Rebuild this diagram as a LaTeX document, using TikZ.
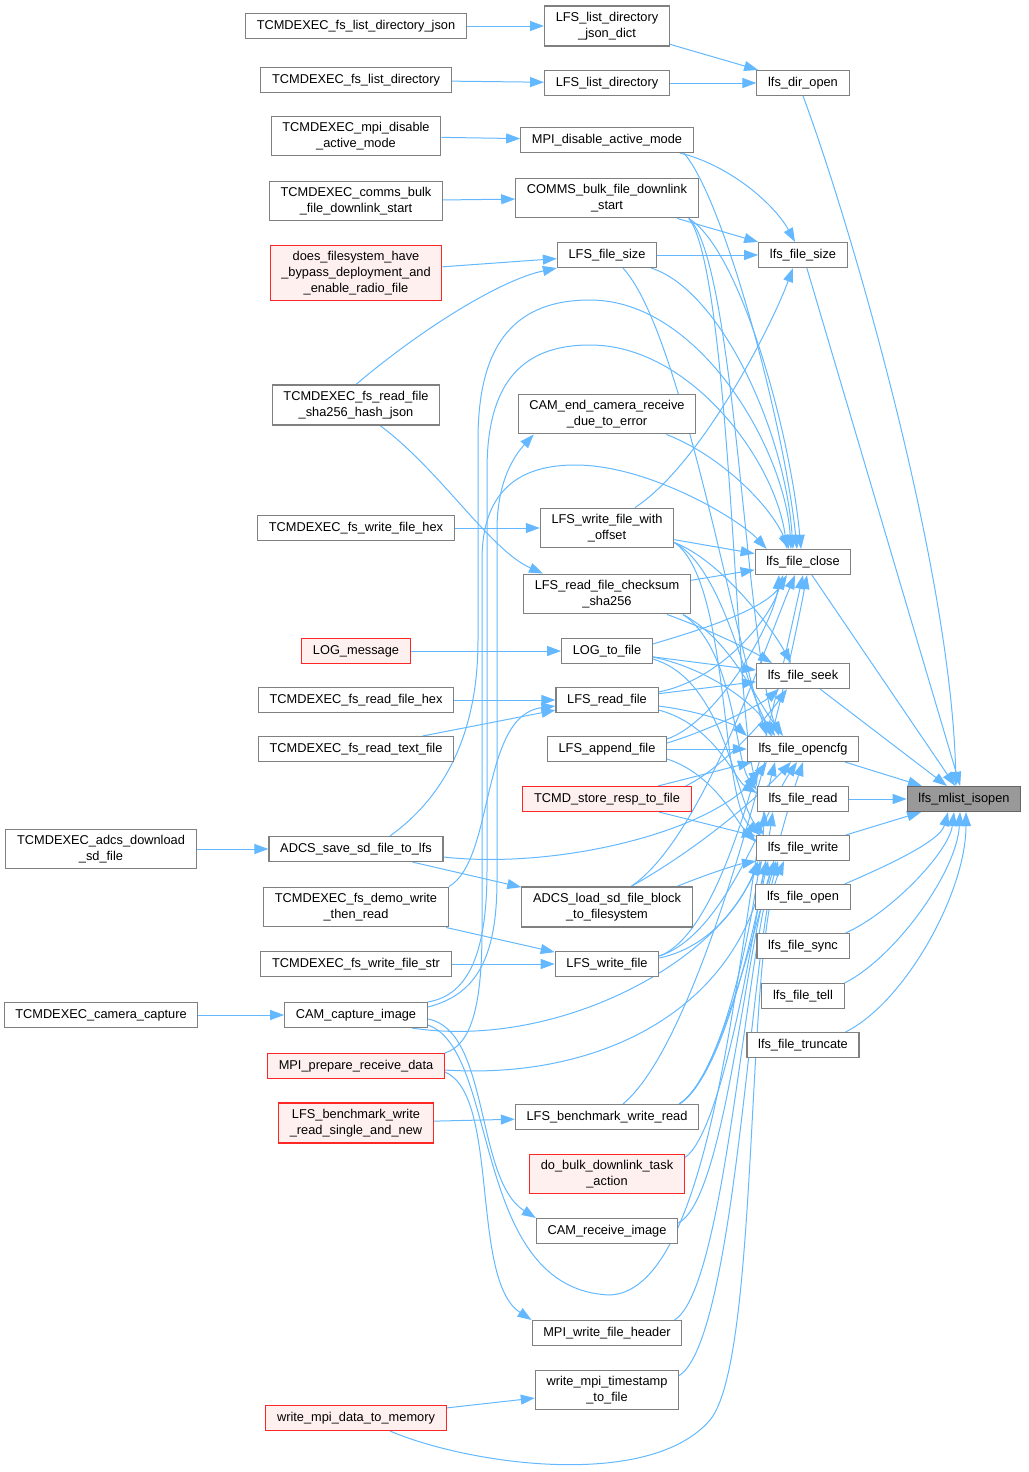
\documentclass[tikz,border=0pt]{standalone}
\usepackage{fontspec}
\setmainfont{Liberation Sans}
\usetikzlibrary{arrows.meta}
\definecolor{edgeblue}{RGB}{99,184,255}
\definecolor{boxgray}{RGB}{128,128,128}
\definecolor{rosefill}{RGB}{255,240,240}
\definecolor{hlgray}{RGB}{153,153,153}
\pgfdeclarelayer{background}
\pgfsetlayers{background,main}

\tikzset{
  fn/.style={draw=boxgray, fill=white, line width=0.55pt, font=\fontsize{6.4}{8}\selectfont,
    inner xsep=5.6pt, inner ysep=3pt, minimum height=12.5pt, align=center},
  fnred/.style={fn, draw=red!85, fill=rosefill},
  fnhl/.style={fn, draw=black!60, fill=hlgray},
  edge/.style={draw=edgeblue, line width=0.5pt, -{Triangle[length=7pt,width=5pt]}},
}

\begin{document}
\begin{tikzpicture}[x=0.5pt,y=-0.5pt]
        \useasboundingbox (0,0) rectangle (1028,1472);

        % Far left callers
        \node[fn] (c0adcs) at (101,849) {TCMDEXEC\_adcs\_download\\\_sd\_file};
        \node[fn] (c0cam) at (101,1015) {TCMDEXEC\_camera\_capture};

        % Left callers
        \node[fn] (c1json) at (356,26) {TCMDEXEC\_fs\_list\_directory\_json};
        \node[fn] (c1list) at (356,80) {TCMDEXEC\_fs\_list\_directory};
        \node[fn] (c1mpi) at (356,136) {TCMDEXEC\_mpi\_disable\\\_active\_mode};
        \node[fn] (c1comms) at (356,201) {TCMDEXEC\_comms\_bulk\\\_file\_downlink\_start};
        \node[fnred] (c1bypass) at (356,273) {does\_filesystem\_have\\\_bypass\_deployment\_and\\\_enable\_radio\_file};
        \node[fn] (c1sha) at (356,405) {TCMDEXEC\_fs\_read\_file\\\_sha256\_hash\_json};
        \node[fn] (c1whex) at (356,528) {TCMDEXEC\_fs\_write\_file\_hex};
        \node[fnred] (c1log) at (356,651) {LOG\_message};
        \node[fn] (c1rhex) at (356,700) {TCMDEXEC\_fs\_read\_file\_hex};
        \node[fn] (c1rtext) at (356,749) {TCMDEXEC\_fs\_read\_text\_file};
        \node[fn] (c1adcs) at (356,849) {ADCS\_save\_sd\_file\_to\_lfs};
        \node[fn] (c1demo) at (356,907) {TCMDEXEC\_fs\_demo\_write\\\_then\_read};
        \node[fn] (c1wstr) at (356,964) {TCMDEXEC\_fs\_write\_file\_str};
        \node[fn] (c1cam) at (356,1015) {CAM\_capture\_image};
        \node[fnred] (c1mpirx) at (356,1066) {MPI\_prepare\_receive\_data};
        \node[fnred] (c1bench) at (356,1123) {LFS\_benchmark\_write\\\_read\_single\_and\_new};
        \node[fnred] (c1mpimem) at (356,1418) {write\_mpi\_data\_to\_memory};

        % Middle column
        \node[fn] (jsondict) at (607,26) {LFS\_list\_directory\\\_json\_dict};
        \node[fn] (listdir) at (607,83) {LFS\_list\_directory};
        \node[fn] (mpidis) at (607,140) {MPI\_disable\_active\_mode};
        \node[fn] (comms) at (607,198) {COMMS\_bulk\_file\_downlink\\\_start};
        \node[fn] (fsize) at (607,255) {LFS\_file\_size};
        \node[fn] (camend) at (607,414) {CAM\_end\_camera\_receive\\\_due\_to\_error};
        \node[fn] (woff) at (607,528) {LFS\_write\_file\_with\\\_offset};
        \node[fn] (rsha) at (607,594) {LFS\_read\_file\_checksum\\\_sha256};
        \node[fn] (logf) at (607,651) {LOG\_to\_file};
        \node[fn] (rfile) at (607,700) {LFS\_read\_file};
        \node[fn] (append) at (607,749) {LFS\_append\_file};
        \node[fnred] (store) at (607,799) {TCMD\_store\_resp\_to\_file};
        \node[fn] (adcsload) at (607,907) {ADCS\_load\_sd\_file\_block\\\_to\_filesystem};
        \node[fn] (wfile) at (607,964) {LFS\_write\_file};
        \node[fn] (bench) at (607,1117) {LFS\_benchmark\_write\_read};
        \node[fnred] (dobulk) at (607,1174) {do\_bulk\_downlink\_task\\\_action};
        \node[fn] (camrx) at (607,1231) {CAM\_receive\_image};
        \node[fn] (mpihdr) at (607,1333) {MPI\_write\_file\_header};
        \node[fn] (tstamp) at (607,1390) {write\_mpi\_timestamp\\\_to\_file};

        % lfs functions
        \node[fn] (diropen) at (803,83) {lfs\_dir\_open};
        \node[fn] (lsize) at (803,255) {lfs\_file\_size};
        \node[fn] (lclose) at (803,562) {lfs\_file\_close};
        \node[fn] (lseek) at (803,676) {lfs\_file\_seek};
        \node[fn] (lopencfg) at (803,749) {lfs\_file\_opencfg};
        \node[fn] (lread) at (803,799) {lfs\_file\_read};
        \node[fn] (lwrite) at (803,848) {lfs\_file\_write};
        \node[fn] (lopen) at (803,897) {lfs\_file\_open};
        \node[fn] (lsync) at (803,946) {lfs\_file\_sync};
        \node[fn] (ltell) at (803,996) {lfs\_file\_tell};
        \node[fn] (ltrunc) at (803,1045) {lfs\_file\_truncate};
        \node[fnhl] (isopen) at (964,799) {lfs\_mlist\_isopen};

        \begin{pgfonlayer}{background}
        % Straight edges
        \foreach \a/\b in {c1json/jsondict, c1list/listdir, c1mpi/mpidis, c1comms/comms,
            c1bypass/fsize, c1whex/woff, c1log/logf, c1rhex/rfile, c1rtext/rfile,
            c0adcs/c1adcs, c1adcs/adcsload, c1demo/wfile, c1wstr/wfile, c0cam/c1cam,
            c1bench/bench, c1mpimem/tstamp, jsondict/diropen, listdir/diropen,
            comms/lsize, fsize/lsize, woff/lclose, rsha/lclose, logf/lseek, rfile/lseek,
            append/lopencfg, store/lopencfg, store/lwrite, lsize/isopen, lclose/isopen,
            lseek/isopen, lopencfg/isopen, lread/isopen, lwrite/isopen}
          \draw[edge] (\a) -- (\b);

        % Into lfs_mlist_isopen
        \draw[edge] (diropen.south) .. controls (848,216) and (951,566) .. ([xshift=-4pt]isopen.north);
        \draw[edge] ([xshift=-3pt]lopen.north east) .. controls +(35,-15) and +(-8,30) .. ([xshift=-8pt]isopen.south);
        \draw[edge] ([xshift=-2pt]lsync.north east) .. controls +(45,-20) and +(-5,40) .. ([xshift=-5pt]isopen.south);
        \draw[edge] (ltell.north east) .. controls +(50,-25) and +(-3,60) .. ([xshift=-2pt]isopen.south);
        \draw[edge] ([xshift=-7pt]ltrunc.north east) .. controls +(60,-30) and +(0,80) .. ([xshift=1pt]isopen.south);

        % Middle column to lfs functions
        \draw[edge] ([xshift=-7pt]mpidis.south east) .. controls (730,165) and (775,205) .. ([xshift=-4pt]lsize.north);
        \draw[edge] ([xshift=-5pt]mpidis.south east) .. controls (725,200) and (785,430) .. ([xshift=-3pt]lclose.north);
        \draw[edge] ([xshift=-5pt]comms.south east) .. controls (740,250) and (790,430) .. ([xshift=-1pt]lclose.north);
        \draw[edge] ([xshift=-5pt]comms.south east) .. controls (735,260) and (745,640) .. ([xshift=-12pt]lopencfg.north);
        \draw[edge] ([xshift=-5pt]comms.south east) .. controls (730,270) and (735,700) .. (lread.north west);
        \draw[edge] ([xshift=-3pt]fsize.south east) .. controls (720,290) and (785,430) .. ([xshift=-5pt]lclose.north);
        \draw[edge] ([xshift=8pt]fsize.south) .. controls (680,330) and (730,620) .. ([xshift=-18pt]lopencfg.north);
        \draw[edge] ([xshift=-15pt]camend.south east) .. controls (720,455) and (770,505) .. ([xshift=-7pt]lclose.north);
        \draw[edge] ([xshift=14pt]woff.north) .. controls (700,465) and (770,330) .. ([xshift=-5pt]lsize.south);
        \draw[edge] ([yshift=3pt]woff.south east) .. controls (720,560) and (770,625) .. ([xshift=-6pt]lseek.north);
        \draw[edge] ([yshift=3pt]woff.south east) .. controls (725,570) and (745,690) .. ([xshift=-14pt]lopencfg.north);
        \draw[edge] ([yshift=3pt]woff.south east) .. controls (730,580) and (720,800) .. ([xshift=2pt]lwrite.north west);
        \draw[edge] ([xshift=-12pt]rsha.south east) .. controls (710,630) and (750,650) .. ([xshift=8pt]lseek.north west);
        \draw[edge] ([xshift=-4pt]rsha.south east) .. controls (730,640) and (750,690) .. ([xshift=-10pt]lopencfg.north);
        \draw[edge] ([xshift=-4pt]rsha.south east) .. controls (735,650) and (735,760) .. ([yshift=-2pt]lread.north west);
        \draw[edge] ([yshift=-3pt]logf.north east) .. controls (700,630) and (765,610) .. ([xshift=-8pt]lclose.south);
        \draw[edge] ([yshift=-3pt]logf.east) .. controls (715,670) and (760,710) .. ([xshift=-16pt]lopencfg.north);
        \draw[edge] ([yshift=-4pt]logf.east) .. controls (725,680) and (735,800) .. ([xshift=4pt]lwrite.north west);
        \draw[edge] ([yshift=4pt]rfile.east) .. controls (720,680) and (770,620) .. ([xshift=-10pt]lclose.south);
        \draw[edge] ([yshift=-3pt]rfile.east) .. controls (705,712) and (735,725) .. (lopencfg.north west);
        \draw[edge] ([yshift=-5pt]rfile.east) .. controls (715,725) and (735,780) .. ([yshift=3pt]lread.west);
        \draw[edge] ([yshift=5pt]append.east) .. controls (720,720) and (775,620) .. ([xshift=-12pt]lclose.south);
        \draw[edge] ([yshift=3pt]append.east) .. controls (710,730) and (760,705) .. ([xshift=-12pt]lseek.south);
        \draw[edge] ([yshift=-5pt]append.east) .. controls (715,775) and (735,820) .. ([yshift=3pt]lwrite.west);
        \draw[edge] ([xshift=-3pt]store.north east) .. controls (720,770) and (765,720) .. ([xshift=-8pt]lseek.south);
        \draw[edge] ([xshift=12pt]adcsload.north) .. controls (700,840) and (760,660) .. ([xshift=-4pt]lclose.south);
        \draw[edge] ([xshift=12pt]adcsload.north) .. controls (705,845) and (765,790) .. ([xshift=-6pt]lopencfg.south);
        \draw[edge] ([xshift=-8pt]adcsload.north east) .. controls (705,875) and (735,865) .. (lwrite.south west);
        \draw[edge] ([yshift=3pt]wfile.east) .. controls (720,945) and (745,890) .. ([xshift=3pt]lwrite.south west);
        \draw[edge] ([yshift=4pt]wfile.east) .. controls (730,930) and (775,700) .. (lclose.south);
        \draw[edge] ([yshift=4pt]wfile.east) .. controls (725,935) and (765,810) .. ([xshift=-3pt]lopencfg.south);
        \draw[edge] ([xshift=8pt]bench.north) .. controls (700,1040) and (780,720) .. ([xshift=2pt]lclose.south);
        \draw[edge] ([xshift=-10pt]bench.north east) .. controls (725,1080) and (770,860) .. (lopencfg.south);
        \draw[edge] ([xshift=-10pt]bench.north east) .. controls (725,1075) and (755,920) .. ([xshift=6pt]lwrite.south west);
        \draw[edge] ([xshift=-10pt]bench.north east) .. controls (730,1070) and (760,880) .. ([xshift=4pt]lread.south west);
        \draw[edge] ([yshift=-2pt]dobulk.north east) .. controls (725,1130) and (760,900) .. ([xshift=8pt]lread.south west);
        \draw[edge] ([yshift=4pt]camrx.east) .. controls (725,1200) and (745,950) .. ([xshift=9pt]lwrite.south west);
        \draw[edge] ([xshift=-4pt]mpihdr.north east) .. controls (725,1290) and (745,960) .. ([xshift=10pt]lwrite.south west);
        \draw[edge] ([yshift=-3pt]tstamp.north east) .. controls (735,1340) and (750,960) .. ([xshift=11pt]lwrite.south west);

        % Left callers, curved
        \draw[edge] (c1sha.north) .. controls (420,330) and (500,280) .. (fsize.south west);
        \draw[edge] ([xshift=12pt]c1sha.south) .. controls (440,470) and (490,550) .. ([xshift=10pt]rsha.north west);
        \draw[edge] (c1demo.north east) .. controls (495,860) and (480,715) .. ([yshift=-3pt]rfile.west);
        \draw[edge] ([yshift=-2pt]c1cam.east) .. controls (490,1030) and (475,1180) .. (camrx.north west);
        \draw[edge] ([yshift=-3pt]c1mpirx.east) .. controls (500,1095) and (470,1280) .. (mpihdr.north west);
        \draw[edge] ([yshift=4pt]c1cam.east) .. controls (475,995) and (497,960) .. (497,880) -- (497,530)
            .. controls (497,480) and (515,455) .. ([xshift=8pt]camend.south west);
        \draw[edge] ([xshift=17pt]c1adcs.north) .. controls (440,800) and (478,740) .. (478,640) -- (478,440)
            .. controls (478,350) and (510,300) .. (590,300)
            .. controls (700,300) and (785,450) .. ([xshift=-6pt]lclose.north);
        \draw[edge] (c1cam.north east) .. controls (470,995) and (487,950) .. (487,870) -- (487,470)
            .. controls (487,385) and (520,345) .. (590,345)
            .. controls (690,345) and (775,460) .. ([xshift=-8pt]lclose.north);
        \draw[edge] (c1mpirx.north east) .. controls (470,1045) and (482,1010) .. (482,930) -- (482,560)
            .. controls (482,490) and (520,465) .. (575,465)
            .. controls (650,465) and (740,520) .. ([xshift=6pt]lclose.north west);
        \draw[edge] ([yshift=-4pt]c1adcs.east) .. controls (560,870) and (720,830) .. ([xshift=10pt]lopencfg.south west);
        \draw[edge] ([xshift=-8pt]c1cam.south east) .. controls (560,1050) and (720,960) .. ([xshift=1pt]lwrite.south west);
        \draw[edge] ([yshift=-2pt]c1mpirx.east) .. controls (600,1080) and (735,1010) .. ([xshift=5pt]lwrite.south west);
        \draw[edge] ([yshift=-5pt]c1cam.east) .. controls (500,1050) and (470,1290) .. (610,1295)
            .. controls (720,1290) and (740,900) .. ([xshift=-14pt]lopencfg.south);
        \draw[edge] ([xshift=17pt]c1mpimem.south) .. controls (470,1465) and (650,1490) .. (710,1420)
            .. controls (760,1360) and (745,950) .. ([xshift=14pt]lwrite.south west);
        \end{pgfonlayer}
\end{tikzpicture}
\end{document}
